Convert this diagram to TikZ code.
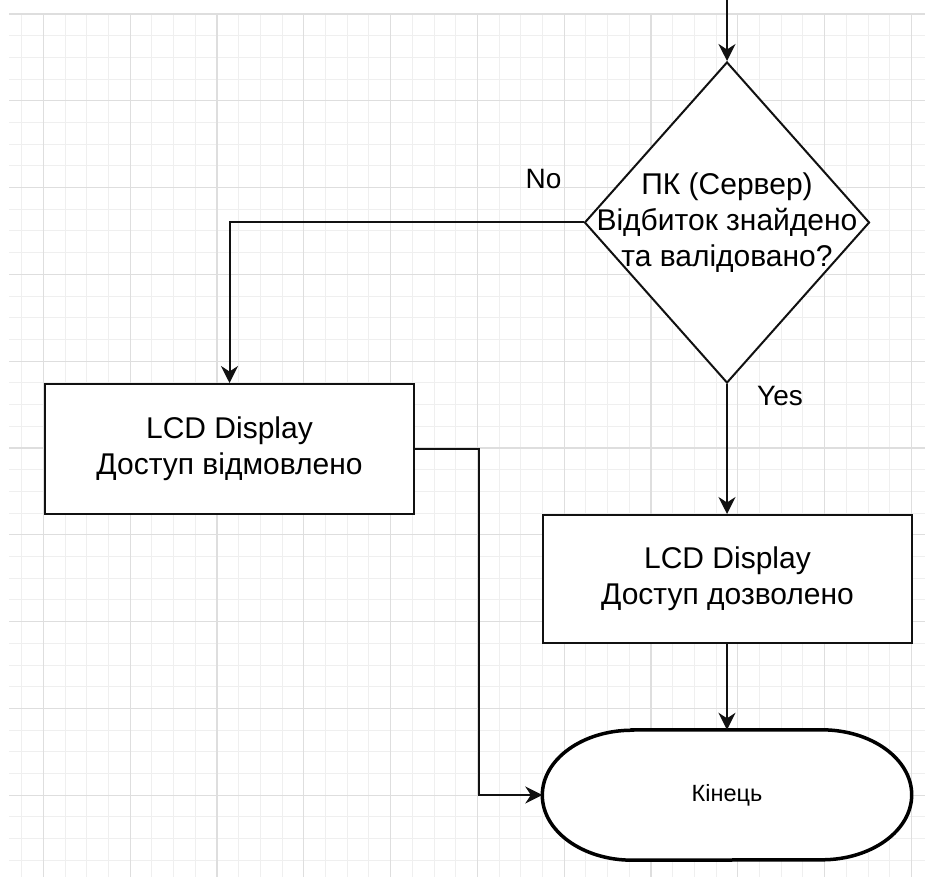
\documentclass[tikz,border=0pt]{standalone}
\usepackage{fontspec}
\setmainfont{Liberation Sans}
\usetikzlibrary{shapes.geometric,arrows.meta,calc}
\definecolor{gridmajor}{HTML}{DEDEDE}
\definecolor{gridminor}{HTML}{EFEFEF}
\definecolor{ink}{HTML}{111111}
\begin{document}
\begin{tikzpicture}[x=1pt,y=-1pt,
  every node/.style={font=\fontsize{30}{36}\selectfont, text=black},
  flow/.style={draw=ink, line width=2pt, -{Stealth[length=17pt,width=17pt,inset=5.5pt]}},
  procbox/.style={draw=ink, fill=white, line width=2pt, minimum width=369pt,
    minimum height=129pt, inner sep=0pt, align=center},
  decision/.style={diamond, draw=ink, fill=white, line width=2pt,
    minimum width=285pt, minimum height=321pt, inner sep=0pt},
  edgelabel/.style={font=\fontsize{28}{32}\selectfont},
  gridminorline/.style={draw=gridminor, line width=1pt},
  gridmajorline/.style={draw=gridmajor, line width=1.2pt}]

\useasboundingbox[fill=white] (0,0) rectangle (925,877);

% background grid
\begin{scope}
  \clip (9,14) rectangle (925,877);
  \foreach \i in {-1,...,41} {
    \draw[gridminorline] ({43.4+21.7*\i},14) -- ({43.4+21.7*\i},877);
  }
  \foreach \i in {0,...,40} {
    \draw[gridminorline] (9,{14+21.7*\i}) -- (925,{14+21.7*\i});
  }
  \foreach \i in {0,...,10} {
    \draw[gridmajorline] ({43.4+86.8*\i},14) -- ({43.4+86.8*\i},877);
    \draw[gridmajorline] (9,{14+86.8*\i}) -- (925,{14+86.8*\i});
  }
\end{scope}

% decision
\node[decision] (dec) at (727,222.5) {};
\node[align=center] (dectext) at (dec.center) {ПК (Сервер)\\Відбиток знайдено\\та валідовано?};

% outcome boxes
\node[procbox, minimum height=130pt] (deny) at (229.5,449) {LCD Display\\Доступ відмовлено};
\node[procbox, minimum height=128pt] (grant) at (727.5,579) {LCD Display\\Доступ дозволено};

% terminator
\node[minimum width=369pt, minimum height=130pt, inner sep=0pt] (end) at (727,795) {};
\filldraw[fill=white, draw=black, line width=3.5pt]
  ($(end.north west)+(90,0)$) -- ($(end.north east)+(-90,0)$)
  arc[start angle=-90, end angle=90, x radius=90, y radius=65]
  -- ($(end.south west)+(90,0)$)
  arc[start angle=90, end angle=270, x radius=90, y radius=65] -- cycle;
\node[font=\fontsize{23.5}{28}\selectfont] (endtext) at (end.center) {Кінець};

% connectors
\coordinate (entry) at (727,0);
\draw[flow] (entry) -- (dec.north);
\draw[flow] (dec.west) -| (deny.north);
\draw[flow] (dec.south) -- (dec.south |- grant.north);
\draw[flow] (grant.south -| end.north) -- (end.north);
\draw[flow] (deny.east) -- ++(64,0) |- (end.west);

% branch labels
\node[edgelabel] (nolabel) at (543.5,179) {No};
\node[edgelabel] (yeslabel) at (780,396) {Yes};

\end{tikzpicture}
\end{document}
